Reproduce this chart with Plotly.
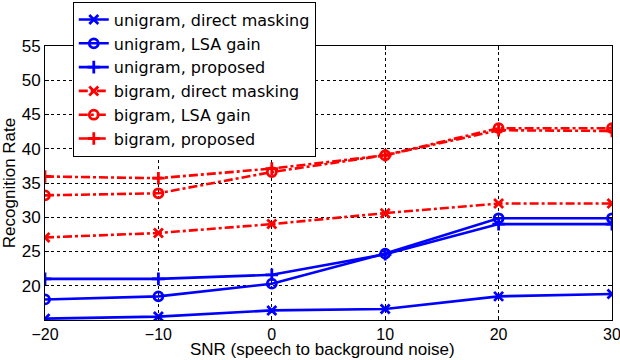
import plotly.graph_objects as go

snr = [-20, -10, 0, 10, 20, 30]
uni_direct = [15.2, 15.5, 16.4, 16.6, 18.45, 18.8]
uni_lsa = [18.0, 18.45, 20.3, 24.7, 29.85, 29.85]
uni_prop = [21.0, 21.0, 21.6, 24.6, 29.0, 29.0]
bi_direct = [27.05, 27.7, 29.0, 30.6, 32.0, 32.0]
bi_lsa = [33.2, 33.5, 36.6, 39.05, 43.0, 43.0]
bi_prop = [35.95, 35.7, 37.1, 39.05, 42.7, 42.6]

names = ["unigram, direct masking", "unigram, LSA gain", "unigram, proposed",
         "bigram, direct masking", "bigram, LSA gain", "bigram, proposed"]
series = [uni_direct, uni_lsa, uni_prop, bi_direct, bi_lsa, bi_prop]
colors = ["#0000ff"] * 3 + ["#ff0000"] * 3
dashes = ["solid"] * 3 + ["dashdot"] * 3
symbols = ["x-thin-open", "circle-open", "cross-thin-open"] * 2

fig = go.Figure()
for n, s, c, d, sym in zip(names, series, colors, dashes, symbols):
    fig.add_trace(go.Scatter(
        x=snr, y=s, name=n, mode="lines+markers",
        line=dict(color=c, width=2.6, dash=d),
        marker=dict(symbol=sym, size=9, color=c, line=dict(color=c, width=2.8)),
    ))

font = "Liberation Sans, Arial, sans-serif"
fig.update_layout(
    width=620, height=360,
    margin=dict(l=45, r=8, t=46, b=40, autoexpand=False),
    paper_bgcolor="white", plot_bgcolor="white",
    font=dict(family=font, size=17, color="black"),
    showlegend=True,
    legend=dict(x=0.049, y=1.162, xanchor="left", yanchor="top",
                bgcolor="white", bordercolor="black", borderwidth=1,
                font=dict(size=16, family="DejaVu Sans, sans-serif"),
                tracegroupgap=0),
    xaxis=dict(range=[-20, 30], tickvals=[-20, -10, 0, 10, 20, 30],
               ticktext=["\u221220", "\u221210", "0", "10", "20", "30"],
               ticklabeloverflow="allow", tickfont=dict(size=16),
               showgrid=True, gridcolor="black", griddash="dot", gridwidth=1,
               showline=True, linecolor="black", linewidth=1, mirror="ticks",
               ticks="inside", ticklen=4, tickcolor="black", zeroline=False),
    yaxis=dict(range=[15, 55], tickvals=[20, 25, 30, 35, 40, 45, 50, 55],
               showgrid=True, gridcolor="black", griddash="dot", gridwidth=1,
               showline=True, linecolor="black", linewidth=1, mirror="ticks",
               ticks="inside", ticklen=4, tickcolor="black", zeroline=False,
               title=dict(text="Recognition Rate", standoff=2,
                          font=dict(size=17))),
    annotations=[dict(text="SNR (speech to background noise)", showarrow=False,
                      xref="paper", yref="paper", x=0.49, y=-0.146,
                      xanchor="center", yanchor="bottom", borderpad=0,
                      font=dict(size=17))],
)
fig.write_html("out.html", config={"displayModeBar": False},
               post_script="document.body.style.margin='0';document.body.style.overflow='hidden';")
